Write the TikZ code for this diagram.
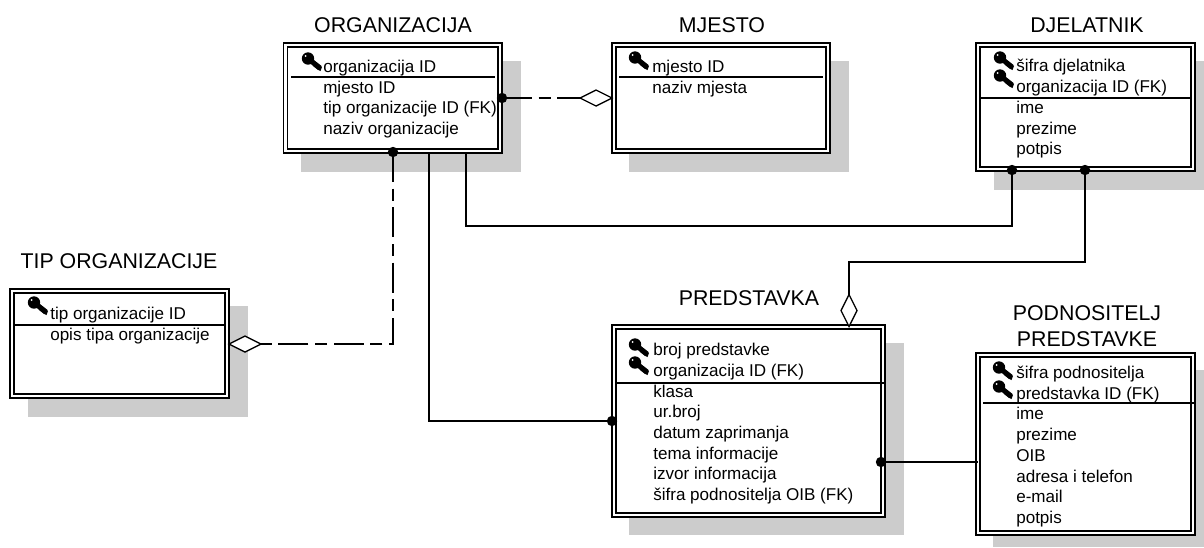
\documentclass[tikz,border=0pt]{standalone}
\usepackage{fontspec}
\setmainfont{Liberation Sans}
\usetikzlibrary{shapes.geometric}
\definecolor{sjena}{RGB}{204,204,204}
\tikzset{
	sjenka/.style={fill=sjena,draw=none},
	entitet/.style={draw,rectangle,fill=white,double,double distance=2pt,line width=1pt,inner sep=0pt,outer sep=0pt},
	naslov/.style={anchor=base,inner sep=0pt,font=\fontsize{16}{18}\selectfont},
	atribut/.style={anchor=base west,inner sep=0pt,font=\fontsize{12.8}{15}\selectfont},
	tocka/.style={circle,fill=black,inner sep=0pt,minimum size=7.8pt},
	romb/.style={diamond,draw,fill=white,line width=1pt,inner sep=0pt,outer sep=0pt},
	vodoravni/.style={romb,minimum width=24pt,minimum height=12pt},
	okomiti/.style={romb,minimum width=12pt,minimum height=24pt},
	veza/.style={line width=1pt},
	crtkana/.style={veza,dash pattern=on 22.5pt off 5pt on 9pt off 5pt},
	kljuc/.pic={
		\fill (6,5.5) circle (6.2);
		\fill[white] (3.6,3) circle (1);
		\draw[line width=3.8pt] (6,5.5) -- (18,15);
		\fill (10.5,12.5) -- (14,9) -- (20,14) -- (18.5,18) -- (15.5,16.5) -- cycle;
	}
}
\begin{document}
\begin{tikzpicture}[x=0.75pt,y=-0.75pt]
	\useasboundingbox (0,0) rectangle (1204,547);
	% sjene
	\fill[sjenka] (301,61) rectangle (521,172);
	\fill[sjenka] (629,61) rectangle (849,172);
	\fill[sjenka] (994,61) rectangle (1204,190);
	\fill[sjenka] (28,306) rectangle (248,417);
	\fill[sjenka] (629,343) rectangle (904,535);
	\fill[sjenka] (993,370) rectangle (1204,547);
	% naslovi
	\node[naslov] (t1) at (393,32) {ORGANIZACIJA};
	\node[naslov] (t2) at (722,32) {MJESTO};
	\node[naslov] (t3) at (1087,32) {DJELATNIK};
	\node[naslov] (t4) at (119,268) {TIP ORGANIZACIJE};
	\node[naslov] (t5) at (749,305) {PREDSTAVKA};
	\node[naslov] (t6) at (1087,320) {PODNOSITELJ};
	\node[naslov] (t7) at (1087,346) {PREDSTAVKE};
	% entiteti
	\node[entitet,minimum width=160.9pt,minimum height=79.5pt] (org) at (392.75,98) {};
	\node[entitet,minimum width=160.5pt,minimum height=79.5pt] (mje) at (721,98) {};
	\node[entitet,minimum width=161.25pt,minimum height=93pt] (dje) at (1085.5,107) {};
	\node[entitet,minimum width=161.25pt,minimum height=78.75pt] (tip) at (119.5,343.5) {};
	\node[entitet,minimum width=201.75pt,minimum height=141pt] (pre) at (748.5,421) {};
	\node[entitet,minimum width=161.25pt,minimum height=133.5pt] (pod) at (1085.5,444) {};
	% crte ispod kljuceva
	\draw[veza] (291,77) -- (495,77);
	\draw[veza] (619,77) -- (823,77);
	\draw[veza] (979,98) -- (1192,98);
	\draw[veza] (15,325) -- (225,325);
	\draw[veza] (616,383) -- (885,383);
	\draw[veza] (983,403) -- (1195,403);
	% kljucevi
	\pic at (302,53) {kljuc};
	\pic at (629,52) {kljuc};
	\pic at (994,52) {kljuc};
	\pic at (994,70) {kljuc};
	\pic at (28,297) {kljuc};
	\pic at (629,339) {kljuc};
	\pic at (629,357) {kljuc};
	\pic at (993,362) {kljuc};
	\pic at (993,381) {kljuc};
	% atributi
	\node[atribut] (o1) at (323,72) {organizacija ID};
	\node[atribut] (o2) at (323,93) {mjesto ID};
	\node[atribut] (o3) at (323,113) {tip organizacije ID (FK)};
	\node[atribut] (o4) at (323,134) {naziv organizacije};
	\node[atribut] (m1) at (652,72) {mjesto ID};
	\node[atribut] (m2) at (652,93) {naziv mjesta};
	\node[atribut] (d1) at (1016,71) {šifra djelatnika};
	\node[atribut] (d2) at (1016,92) {organizacija ID (FK)};
	\node[atribut] (d3) at (1016,113) {ime};
	\node[atribut] (d4) at (1016,134) {prezime};
	\node[atribut] (d5) at (1016,154) {potpis};
	\node[atribut] (t8) at (50,319) {tip organizacije ID};
	\node[atribut] (t9) at (50,340) {opis tipa organizacije};
	\node[atribut] (p1) at (653,355) {broj predstavke};
	\node[atribut] (p2) at (653,376) {organizacija ID (FK)};
	\node[atribut] (p3) at (653,397) {klasa};
	\node[atribut] (p4) at (653,417) {ur.broj};
	\node[atribut] (p5) at (653,438) {datum zaprimanja};
	\node[atribut] (p6) at (653,459) {tema informacije};
	\node[atribut] (p7) at (653,479) {izvor informacija};
	\node[atribut] (p8) at (653,500) {šifra podnositelja OIB (FK)};
	\node[atribut] (n1) at (1016,378) {šifra podnositelja};
	\node[atribut] (n2) at (1016,399) {predstavka ID (FK)};
	\node[atribut] (n3) at (1016,419) {ime};
	\node[atribut] (n4) at (1016,440) {prezime};
	\node[atribut] (n5) at (1016,461) {OIB};
	\node[atribut] (n6) at (1016,482) {adresa i telefon};
	\node[atribut] (n7) at (1016,502) {e-mail};
	\node[atribut] (n8) at (1016,523) {potpis};
	% tocke, rombovi i pomocne koordinate
	\node[tocka] (orgmje) at (502,98) {};
	\node[tocka] (orgtip) at (393,152) {};
	\node[tocka] (preorg) at (612,421) {};
	\node[tocka] (djeorg) at (1012,170) {};
	\node[tocka] (djepre) at (1085,170) {};
	\node[tocka] (prepod) at (881,462) {};
	\node[vodoravni] (rmje) at (596,98) {};
	\node[vodoravni] (rtip) at (245,344) {};
	\node[okomiti] (rpre) at (849,310.5) {};
	\coordinate (orgpre) at (429,153);
	\coordinate (orgdje) at (466,153);
	\coordinate (vod1) at (700,226);
	\coordinate (vod2) at (950,262);
	% veze
	\draw[crtkana] (orgmje.center) -- (rmje.west);
	\draw[crtkana] (orgtip.center) -- (orgtip |- rtip) -- (rtip.east);
	\draw[veza] (orgpre) |- (preorg.center);
	\draw[veza] (orgdje) -- (orgdje |- vod1) -- (djeorg |- vod1) -- (djeorg.center);
	\draw[veza] (djepre.center) -- (djepre |- vod2) -- (rpre |- vod2) -- (rpre.north);
	\draw[veza] (prepod.center) -- (prepod -| pod.west);
\end{tikzpicture}
\end{document}
